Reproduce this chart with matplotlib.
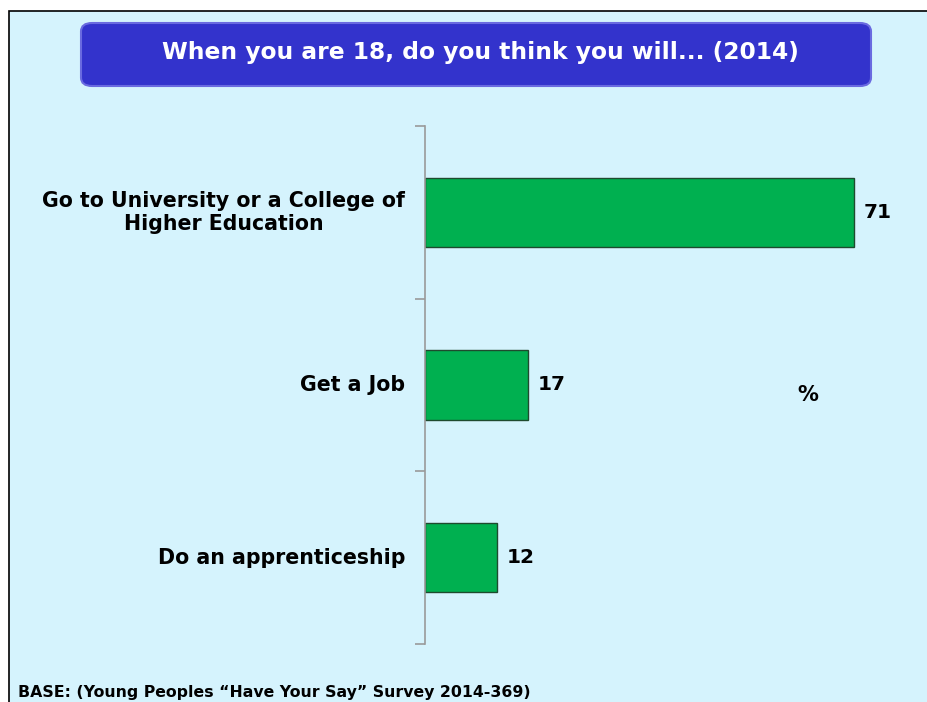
import matplotlib
matplotlib.use("Agg")
import matplotlib.pyplot as plt
from matplotlib.patches import Rectangle, FancyBboxPatch

categories = ["Go to University or a College of\nHigher Education", "Get a Job", "Do an apprenticeship"]
values = [71, 17, 12]
title = "When you are 18, do you think you will... (2014)"
base_note = "BASE: (Young Peoples \u201cHave Your Say\u201d Survey 2014-369)"

W, H = 928, 702
fig = plt.figure(figsize=(W / 100, H / 100), dpi=100)
fig.patch.set_facecolor("white")

def fx(px):
    return px / W

def fy(py):
    return 1 - py / H

# background panel with border (right/bottom edges pushed off-canvas)
bg = Rectangle((fx(9), -0.05), 1.1, fy(11) + 0.05, transform=fig.transFigure,
               facecolor="#D5F3FD", edgecolor="black", linewidth=1.2, zorder=-10)
fig.patches.append(bg)

# title box
tb = FancyBboxPatch((fx(81), fy(86)), fx(871) - fx(81), fy(23) - fy(86),
                    boxstyle="round,pad=0,rounding_size=0.012",
                    transform=fig.transFigure, facecolor="#3333CC",
                    edgecolor="#6A6AE0", linewidth=1.5, zorder=-5)
fig.patches.append(tb)
fig.text(fx(480), fy(52), title, color="white", fontsize=16.8, fontweight="bold",
         ha="center", va="center", family="DejaVu Sans", zorder=2)

ax = fig.add_axes([fx(425), fy(644), fx(908) - fx(425), fy(126) - fy(644)])
ax.set_facecolor("none")
ax.set_zorder(1)
n = len(categories)
ypos = list(range(n))
ax.barh(ypos, values, height=0.4, color="#00B050", edgecolor="#1E4A2E", linewidth=1.0)
ax.set_ylim(n - 0.5, -0.5)
ax.set_xlim(0, 80)
for s in ["top", "right", "bottom"]:
    ax.spines[s].set_visible(False)
ax.spines["left"].set_color("#9A9A9A")
ax.spines["left"].set_linewidth(1.2)
ax.set_xticks([])
ax.set_yticks([i - 0.5 for i in range(n + 1)])
ax.set_yticklabels([])
ax.tick_params(axis="y", length=7, color="#9A9A9A", width=1.2)
for i, (c, v) in enumerate(zip(categories, values)):
    ax.text(-3.3, i, c, ha="right", va="center", fontsize=14.8, fontweight="bold",
            multialignment="center", color="black", linespacing=1.15)
    ax.text(v + 1.6, i, str(v), ha="left", va="center", fontsize=14.5, fontweight="bold",
            color="black")

fig.text(fx(808), fy(395), "%", ha="center", va="center", fontsize=15, fontweight="bold")
fig.text(fx(18), fy(693), base_note, ha="left", va="center", fontsize=11.3, fontweight="bold")

fig.savefig("out.png", dpi=100)
